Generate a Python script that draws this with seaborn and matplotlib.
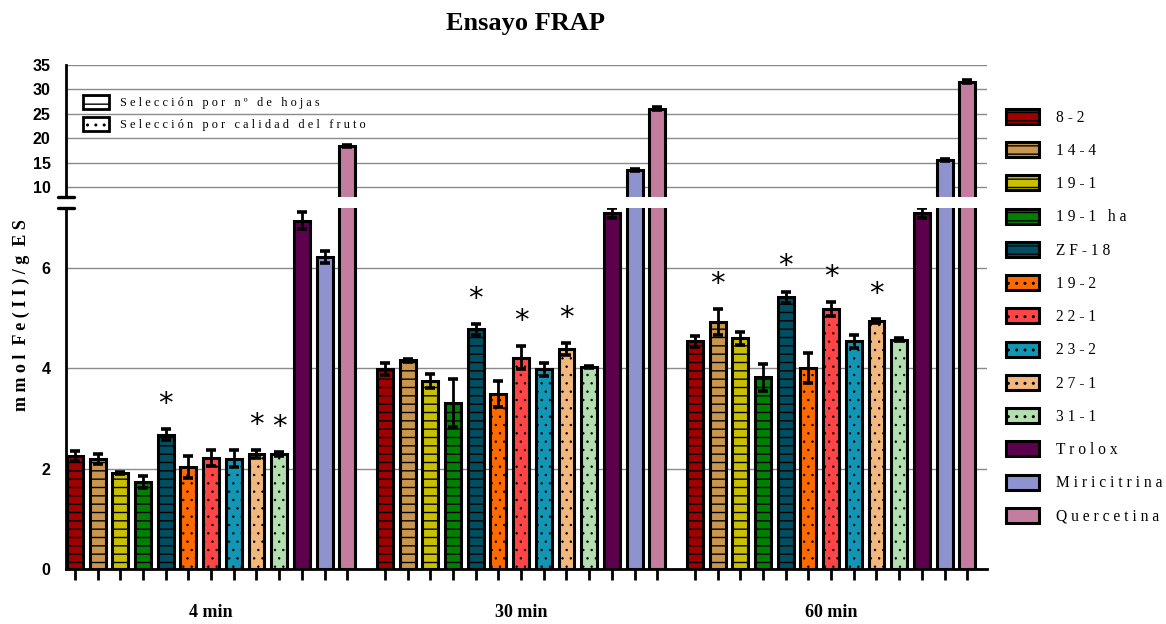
import numpy as np
import pandas as pd
import matplotlib
matplotlib.use("Agg")
import matplotlib.pyplot as plt
from matplotlib.patches import Patch
from matplotlib.transforms import blended_transform_factory
import seaborn as sns

# ---- data -------------------------------------------------------------
times = ["4 min", "30 min", "60 min"]
samples = ["8-2", "14-4", "19-1", "19-1 ha", "ZF-18", "19-2", "22-1",
           "23-2", "27-1", "31-1", "Trolox", "Miricitrina", "Quercetina"]

mean_4 = [2.26, 2.20, 1.92, 1.74, 2.68, 2.03, 2.22, 2.20, 2.30, 2.29, 6.94, 6.21, 18.4]
err_4 = [0.10, 0.10, 0.02, 0.12, 0.11, 0.22, 0.16, 0.17, 0.08, 0.04, 0.17, 0.12, 0.3]
mean_30 = [3.99, 4.16, 3.75, 3.31, 4.78, 3.49, 4.21, 3.98, 4.39, 4.03, 7.09, 13.4, 26.0]
err_30 = [0.12, 0.03, 0.14, 0.47, 0.11, 0.26, 0.23, 0.13, 0.12, 0.02, 0.10, 0.2, 0.3]
mean_60 = [4.54, 4.92, 4.60, 3.82, 5.42, 4.00, 5.18, 4.54, 4.95, 4.57, 7.09, 15.5, 31.6]
err_60 = [0.11, 0.26, 0.13, 0.27, 0.11, 0.30, 0.14, 0.13, 0.04, 0.03, 0.10, 0.2, 0.3]

# samples marked as significantly different in each time group
sig_4 = ["ZF-18", "27-1", "31-1"]
sig_30 = ["ZF-18", "22-1", "27-1"]
sig_60 = ["14-4", "ZF-18", "22-1", "27-1"]

group_labels = ["Selección por nº de hojas", "Selección por calidad del fruto"]
title = "Ensayo FRAP"
ylabel = "mmol Fe(II)/g ES"

# ---- styling ----------------------------------------------------------
colors = ["#A00000", "#C8964F", "#C8C000", "#008000", "#004E60",
          "#FF6A00", "#FF4545", "#1396B4", "#F2B77C", "#B2DEB0",
          "#5C004E", "#8E93CF", "#C47D9E"]
hatches = ["--"] * 5 + [".."] * 5 + [""] * 3
LINE_HATCH_LW = 1.0
DOT_HATCH_LW = 0.5

sns.set_style("white")
plt.rcParams["font.family"] = ["Liberation Serif", "DejaVu Serif"]
plt.rcParams["hatch.linewidth"] = LINE_HATCH_LW
plt.rcParams["hatch.color"] = "#262626"
for key in ("text.color", "axes.labelcolor", "xtick.color", "ytick.color"):
    plt.rcParams[key] = "black"


def style_hatch(patch, hatch):
    patch.set_hatch(hatch)
    if hasattr(patch, "set_hatch_linewidth"):
        patch.set_hatch_linewidth(DOT_HATCH_LW if "." in hatch else LINE_HATCH_LW)


means = [mean_4, mean_30, mean_60]
errs = [err_4, err_30, err_60]
sigs = [sig_4, sig_30, sig_60]

df = pd.DataFrame({
    "time": np.repeat(times, len(samples)),
    "sample": samples * len(times),
    "value": np.concatenate(means),
    "err": np.concatenate(errs),
})

fig = plt.figure(figsize=(11.66, 6.24), dpi=100)
ax_top = fig.add_axes([0.0566, 0.6848, 0.7899, 0.2110])
ax_bot = fig.add_axes([0.0566, 0.0881, 0.7899, 0.5790])

spread = lambda s: " ".join(s)
BAR_LW = 2.2

for ax in (ax_top, ax_bot):
    sns.barplot(data=df, x="time", y="value", hue="sample", order=times,
                hue_order=samples, palette=colors, saturation=1,
                width=0.952, gap=0.3, errorbar=None, edgecolor="black",
                linewidth=BAR_LW, legend=False, ax=ax, zorder=2)
    for cont, hatch, name in zip(ax.containers, hatches, samples):
        bars = sorted(cont.patches, key=lambda p: p.get_x())
        xs, ys, es = [], [], []
        for bar, t in zip(bars, times):
            style_hatch(bar, hatch)
            row = df[(df["sample"] == name) & (df["time"] == t)].iloc[0]
            xs.append(bar.get_x() + bar.get_width() / 2)
            ys.append(row["value"])
            es.append(row["err"])
        ax.errorbar(xs, ys, yerr=es, fmt="none", ecolor="black",
                    elinewidth=2.0, capsize=3.5, capthick=2.6, zorder=3)
        if ax is ax_bot:
            for x, y, e, t, sg in zip(xs, ys, es, times, sigs):
                if name in sg:
                    ax.text(x, y + e + 0.22, "*", ha="center", va="bottom",
                            fontsize=21, family="DejaVu Sans", color="black")
    ax.set_xlim(-0.468, 2.503)
    ax.set_xlabel("")
    ax.set_ylabel("")
    ax.set_axisbelow(True)
    ax.yaxis.grid(True, color="#8a8a8a", linewidth=1.0)
    ax.xaxis.grid(False)
    for s in ("top", "right"):
        ax.spines[s].set_visible(False)
    ax.spines["left"].set_linewidth(2.0)
    ax.spines["left"].set_color("black")
    ax.tick_params(axis="y", direction="out", length=8, width=2.0,
                   color="black", pad=3, labelsize=11.5)

# upper segment
ax_top.set_ylim(8, 35)
ax_top.set_yticks([10, 15, 20, 25, 30, 35])
ax_top.spines["bottom"].set_visible(False)
ax_top.tick_params(axis="x", bottom=False, labelbottom=False)

# lower segment
ax_bot.set_ylim(0, 7.2)
ax_bot.set_yticks([0, 2, 4, 6])
ax_bot.spines["bottom"].set_linewidth(2.0)
ax_bot.spines["bottom"].set_color("black")
bar_centers = sorted(p.get_x() + p.get_width() / 2 for p in ax_bot.patches)
ax_bot.set_xticks(range(len(times)))
ax_bot.set_xticklabels(times, fontweight="bold", fontsize=13)
ax_bot.set_xticks(bar_centers, minor=True)
ax_bot.tick_params(axis="x", which="both", direction="out", length=8,
                   width=2.0, color="black", bottom=True)
ax_bot.tick_params(axis="x", which="major", pad=17)

for ax in (ax_top, ax_bot):
    for lab in ax.get_yticklabels():
        lab.set_family("Liberation Sans")
        lab.set_fontweight("bold")

# axis-break caps on the left spine
for ax, yb in ((ax_top, 0.0), (ax_bot, 1.0)):
    tr = blended_transform_factory(ax.transAxes, ax.transAxes)
    ax.plot([-0.009, 0.009], [yb, yb], color="black", lw=2.4,
            transform=tr, clip_on=False, zorder=5)

# legend of selection criteria
sel_handles = [Patch(facecolor="white", edgecolor="black", lw=2.0),
               Patch(facecolor="white", edgecolor="black", lw=2.0)]
for h, hatch in zip(sel_handles, ["--", ".."]):
    style_hatch(h, hatch)
ax_top.legend(sel_handles, [spread(g) for g in group_labels], loc="upper left",
              bbox_to_anchor=(0.012, 0.815), frameon=False, borderpad=0,
              fontsize=8.8, handlelength=2.1, handleheight=1.35,
              labelspacing=0.62, handletextpad=0.95)

# sample legend
handles = []
for c, h in zip(colors, hatches):
    p = Patch(facecolor=c, edgecolor="black", lw=2.2)
    style_hatch(p, h)
    handles.append(p)
fig.legend(handles, [spread(s) for s in samples], loc="upper left",
           bbox_to_anchor=(1006 / 1166, 1 - 109 / 624), frameon=False,
           borderpad=0, borderaxespad=0, fontsize=11.2, handlelength=2.15,
           handleheight=1.1, labelspacing=1.06, handletextpad=1.05)

fig.text(0.451, 0.963, title, ha="center", va="center", fontsize=19,
         fontweight="bold")
fig.text(0.018, 0.495, spread(ylabel).replace("   ", "  "), rotation=90,
         ha="center", va="center", fontsize=13, fontweight="bold")

fig.savefig("out.png", dpi=100)
